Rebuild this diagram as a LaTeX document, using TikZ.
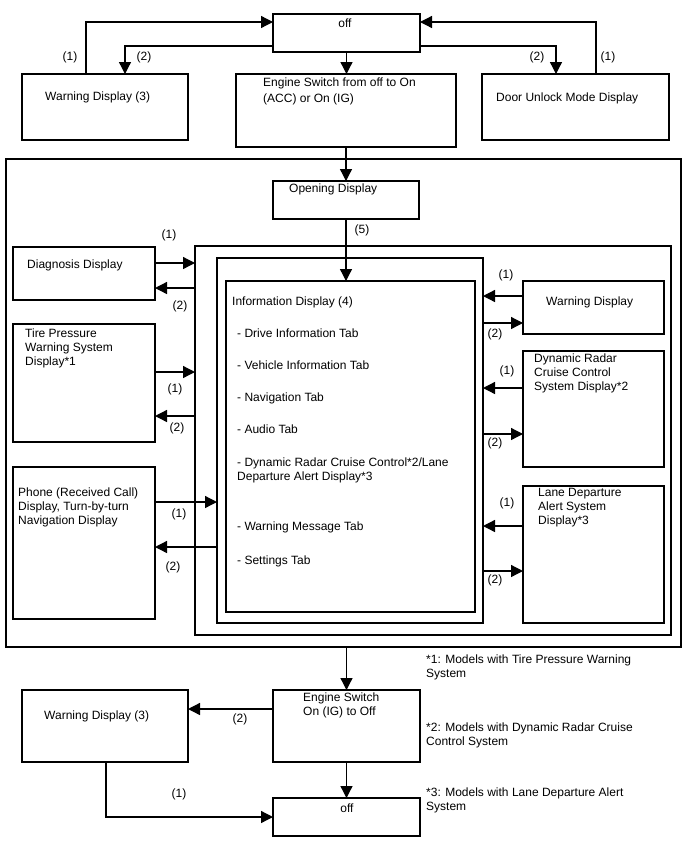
\documentclass[tikz,border=0pt]{standalone}
\usepackage{fontspec}
\setmainfont{Liberation Sans}
\usetikzlibrary{arrows.meta,calc}
\newcommand{\mybox}[5]{\node[box, minimum width={#4-#2}, minimum height={#5-#3}] (#1) at (#2,#3) {};}
\begin{document}
\begin{tikzpicture}[x=1pt,y=-1pt,
  box/.style={draw, line width=1.3pt, rectangle, inner sep=0pt, outer sep=0pt, anchor=north west},
  txt/.style={inner sep=0pt, anchor=north west, align=left, font=\fontsize{12}{14}\selectfont},
  lbl/.style={inner sep=0pt, font=\fontsize{12}{14}\selectfont},
  arr/.style={line width=1.3pt, -{Triangle[length=12pt,width=12pt]}}]
\fill[white] (0,0) rectangle (688,852);
\useasboundingbox (0,0) rectangle (688,852);
% boxes
\mybox{off1}{273}{14}{420}{52}
\mybox{warnL}{22}{74}{188}{140}
\mybox{eng1}{236}{74}{456}{147}
\mybox{door}{482}{74}{669}{140}
\mybox{outer}{6}{159}{681}{647}
\mybox{open}{273}{181}{419}{219}
\mybox{frame1}{195}{246}{671}{635}
\mybox{frame2}{217}{258}{483}{623}
\mybox{frame3}{226}{281}{475}{612}
\mybox{diag}{13}{247}{155}{300}
\mybox{tire}{13}{324}{155}{442}
\mybox{phone}{13}{467}{155}{619}
\mybox{warnR}{523}{281}{664}{334}
\mybox{drcc}{523}{351}{664}{467}
\mybox{lda}{523}{486}{664}{623}
\mybox{eng2}{273}{690}{420}{762}
\mybox{warnB}{22}{690}{188}{762}
\mybox{off2}{273}{798}{420}{836}
% texts
\node[lbl, anchor=north] (t-off1) at (345,19) {off};
\node[txt] (t-warnL) at (45,92) {Warning Display (3)};
\node[txt, font=\fontsize{12}{16}\selectfont] (t-eng1) at (263,78) {Engine Switch from off to On\\(ACC) or On (IG)};
\node[txt] (t-door) at (496,93) {Door Unlock Mode Display};
\node[txt] (t-open) at (289,184) {Opening Display};
\node[txt] (t-diag) at (27,260) {Diagnosis Display};
\node[txt] (t-tire) at (25,329) {Tire Pressure\\Warning System\\Display*1};
\node[txt] (t-phone) at (18,488) {Phone (Received Call)\\Display, Turn-by-turn\\Navigation Display};
\node[txt] (t-info) at (232,297) {Information Display (4)};
\node[txt] (t-tab1) at (237,329) {- Drive Information Tab};
\node[txt] (t-tab2) at (237,361) {- Vehicle Information Tab};
\node[txt] (t-tab3) at (237,393) {- Navigation Tab};
\node[txt] (t-tab4) at (237,425) {- Audio Tab};
\node[txt] (t-tab5) at (237,458) {- Dynamic Radar Cruise Control*2/Lane\\Departure Alert Display*3};
\node[txt] (t-tab6) at (237,522) {- Warning Message Tab};
\node[txt] (t-tab7) at (237,556) {- Settings Tab};
\node[txt] (t-warnR) at (546,297) {Warning Display};
\node[txt] (t-drcc) at (534,354) {Dynamic Radar\\Cruise Control\\System Display*2};
\node[txt] (t-lda) at (538,488) {Lane Departure\\Alert System\\Display*3};
\node[txt] (t-eng2) at (303,693) {Engine Switch\\On (IG) to Off};
\node[txt] (t-warnB) at (44,711) {Warning Display (3)};
\node[lbl, anchor=north] (t-off2) at (347,804) {off};
\node[txt] (fn1) at (426,655) {*1: Models with Tire Pressure Warning\\System};
\node[txt] (fn2) at (426,723) {*2: Models with Dynamic Radar Cruise\\Control System};
\node[txt] (fn3) at (426,788) {*3: Models with Lane Departure Alert\\System};
% level coordinates
\coordinate (ytop) at (0,22);
\coordinate (ymid) at (0,46);
\coordinate (xL1) at (86,0);
\coordinate (xL2) at (125,0);
\coordinate (xR2) at (556,0);
\coordinate (xR1) at (596,0);
\coordinate (yd1) at (0,263);
\coordinate (yd2) at (0,288);
\coordinate (yt1) at (0,372);
\coordinate (yt2) at (0,416);
\coordinate (yp1) at (0,502);
\coordinate (yp2) at (0,547);
\coordinate (yw1) at (0,296);
\coordinate (yw2) at (0,323);
\coordinate (yr1) at (0,388);
\coordinate (yr2) at (0,434);
\coordinate (yl1) at (0,526);
\coordinate (yl2) at (0,571);
\coordinate (yb2) at (0,709);
\coordinate (xb1) at (106,0);
\coordinate (yb1) at (0,817);
% top connectors
\draw[arr] (xL1 |- warnL.north) |- (off1.west |- ytop);
\draw[arr] (off1.west |- ymid) -| (xL2 |- warnL.north);
\draw[arr] (off1.east |- ymid) -| (xR2 |- door.north);
\draw[arr] (xR1 |- door.north) |- (off1.east |- ytop);
\draw[arr] (off1.south) -- (off1.south |- eng1.north);
\draw[arr] (eng1.south) -- (eng1.south |- open.north);
\draw[arr] (open.south) -- (open.south |- frame3.north);
% left connectors
\draw[arr] (diag.east |- yd1) -- (frame1.west |- yd1);
\draw[arr] (frame1.west |- yd2) -- (diag.east |- yd2);
\draw[arr] (tire.east |- yt1) -- (frame1.west |- yt1);
\draw[arr] (frame1.west |- yt2) -- (tire.east |- yt2);
\draw[arr] (phone.east |- yp1) -- (frame2.west |- yp1);
\draw[arr] (frame2.west |- yp2) -- (phone.east |- yp2);
% right connectors
\draw[arr] (warnR.west |- yw1) -- (frame2.east |- yw1);
\draw[arr] (frame2.east |- yw2) -- (warnR.west |- yw2);
\draw[arr] (drcc.west |- yr1) -- (frame2.east |- yr1);
\draw[arr] (frame2.east |- yr2) -- (drcc.west |- yr2);
\draw[arr] (lda.west |- yl1) -- (frame2.east |- yl1);
\draw[arr] (frame2.east |- yl2) -- (lda.west |- yl2);
% bottom connectors
\draw[arr] (eng2.north |- outer.south) -- (eng2.north);
\draw[arr] (eng2.west |- yb2) -- (warnB.east |- yb2);
\draw[arr] (eng2.south) -- (off2.north);
\draw[arr] (xb1 |- warnB.south) |- (off2.west |- yb1);
% labels
\node[lbl] (l1) at (70,57) {(1)};
\node[lbl] (l2) at (144,57) {(2)};
\node[lbl] (l3) at (537,57) {(2)};
\node[lbl] (l4) at (608,57) {(1)};
\node[lbl] (l5) at (362,230) {(5)};
\node[lbl] (l6) at (169,235) {(1)};
\node[lbl] (l7) at (180,306) {(2)};
\node[lbl] (l8) at (175,389) {(1)};
\node[lbl] (l9) at (177,428) {(2)};
\node[lbl] (l10) at (179,514) {(1)};
\node[lbl] (l11) at (173,567) {(2)};
\node[lbl] (l12) at (506,275) {(1)};
\node[lbl] (l13) at (495,334) {(2)};
\node[lbl] (l14) at (507,371) {(1)};
\node[lbl] (l15) at (495,443) {(2)};
\node[lbl] (l16) at (507,503) {(1)};
\node[lbl] (l17) at (495,580) {(2)};
\node[lbl] (l18) at (240,719) {(2)};
\node[lbl] (l19) at (179,794) {(1)};
\end{tikzpicture}
\end{document}
